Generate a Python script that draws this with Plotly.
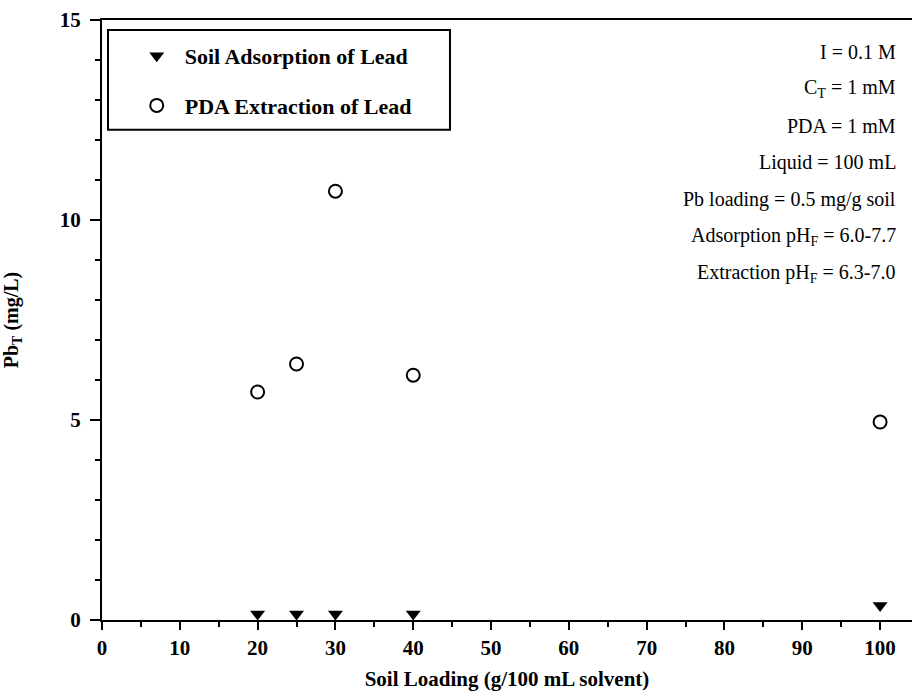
import plotly.graph_objects as go

soil_loading = [20, 25, 30, 40, 100]
adsorption_pb = [0.15, 0.15, 0.15, 0.15, 0.36]
extraction_pb = [5.7, 6.4, 10.72, 6.12, 4.95]

conditions = [
    "I = 0.1 M",
    "C<sub>T</sub> = 1 mM",
    "PDA = 1 mM",
    "Liquid = 100 mL",
    "Pb loading = 0.5 mg/g soil",
    "Adsorption pH<sub>F</sub> = 6.0-7.7",
    "Extraction pH<sub>F</sub> = 6.3-7.0",
]

FONT = "Liberation Serif"

fig = go.Figure()
fig.add_trace(go.Scatter(
    x=soil_loading, y=adsorption_pb, mode="markers",
    name="Soil Adsorption of Lead", legendgroup="a",
    marker=dict(symbol="triangle-down", size=13, color="black"),
))
fig.add_trace(go.Scatter(
    x=soil_loading, y=extraction_pb, mode="markers",
    name="PDA Extraction of Lead", legendgroup="b",
    marker=dict(symbol="circle-open", size=13, color="black", line=dict(width=2)),
))

for i, t in enumerate(conditions):
    fig.add_annotation(
        text=t, xref="paper", yref="paper", x=0.983, y=0.947 - i * 0.0617,
        xanchor="right", yanchor="middle", showarrow=False,
        font=dict(family=FONT, size=20, color="black"),
    )

# legend frame
fig.add_shape(type="rect", xref="paper", yref="paper",
              x0=0.0074, x1=0.4296, y0=0.817, y1=0.9833,
              line=dict(color="black", width=2), fillcolor="rgba(0,0,0,0)")

fig.update_layout(
    width=913, height=693,
    margin=dict(l=102, r=1, t=20, b=73),
    paper_bgcolor="white", plot_bgcolor="white",
    showlegend=True,
    legend=dict(
        x=0.033, y=0.975, xanchor="left", yanchor="top",
        borderwidth=0, bgcolor="rgba(0,0,0,0)",
        font=dict(family=FONT, size=22, color="black", weight="bold"),
        tracegroupgap=18, traceorder="grouped", itemwidth=46,
    ),
    font=dict(family=FONT, color="black"),
)
fig.update_xaxes(
    range=[0, 104.1], tickvals=[0, 10, 20, 30, 40, 50, 60, 70, 80, 90, 100],
    showline=True, linecolor="black", linewidth=2, mirror=True,
    ticks="outside", ticklen=8, tickwidth=2, tickcolor="black",
    minor=dict(dtick=5, ticks="outside", ticklen=5, tickwidth=1.5, tickcolor="black"),
    showgrid=False, zeroline=False,
    tickfont=dict(family=FONT, size=21, color="black", weight="bold"),
    title=dict(text="Soil Loading (g/100 mL solvent)", standoff=12,
               font=dict(family=FONT, size=21, color="black", weight="bold")),
)
fig.update_yaxes(
    range=[0, 15], tickvals=[0, 5, 10, 15],
    showline=True, linecolor="black", linewidth=2, mirror=False,
    ticks="outside", ticklen=10, tickwidth=2, tickcolor="black",
    minor=dict(dtick=1, ticks="outside", ticklen=5, tickwidth=1.5, tickcolor="black"),
    showgrid=False, zeroline=False, ticklabelstandoff=5,
    tickfont=dict(family=FONT, size=21, color="black", weight="bold"),
    title=dict(text="Pb<sub>T</sub> (mg/L)", standoff=36,
               font=dict(family=FONT, size=20, color="black", weight="bold")),
)

fig.write_html("out.html")
